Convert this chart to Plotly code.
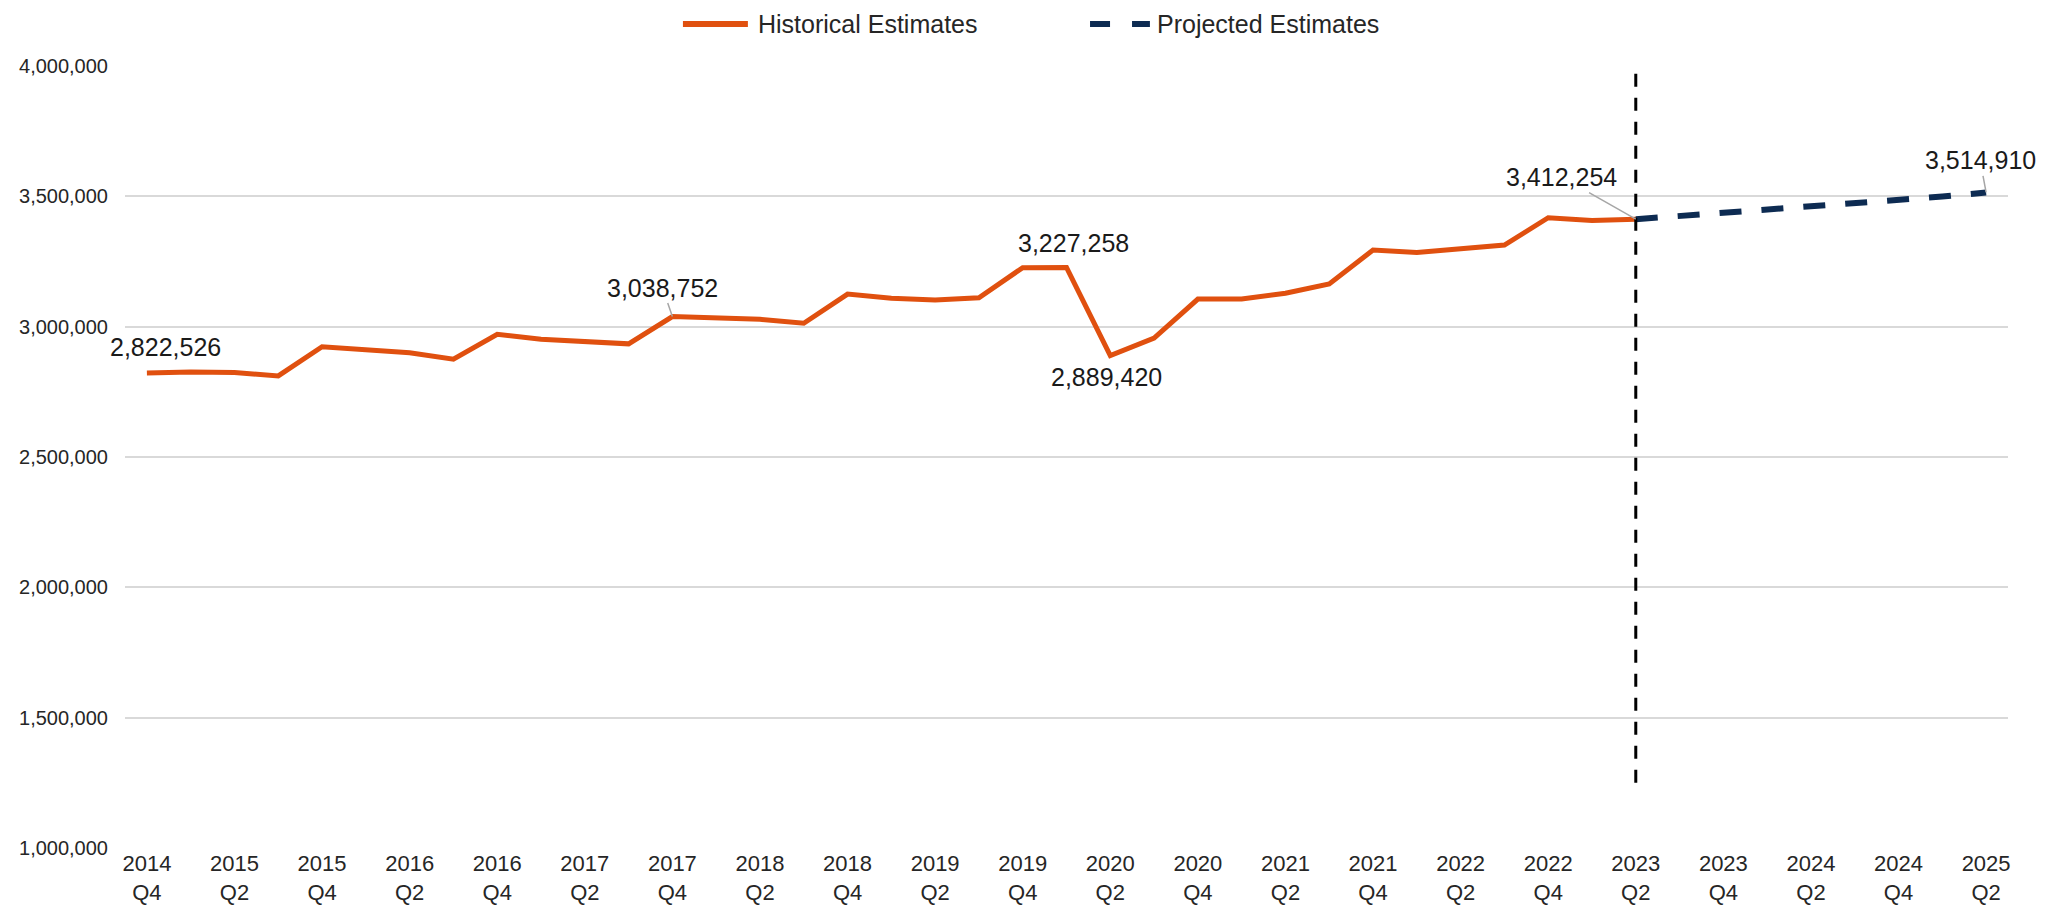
import plotly.graph_objects as go

FONT = "Arial, 'Liberation Sans', sans-serif"

quarters = [
    "2014 Q4", "2015 Q1", "2015 Q2", "2015 Q3", "2015 Q4", "2016 Q1", "2016 Q2", "2016 Q3",
    "2016 Q4", "2017 Q1", "2017 Q2", "2017 Q3", "2017 Q4", "2018 Q1", "2018 Q2", "2018 Q3",
    "2018 Q4", "2019 Q1", "2019 Q2", "2019 Q3", "2019 Q4", "2020 Q1", "2020 Q2", "2020 Q3",
    "2020 Q4", "2021 Q1", "2021 Q2", "2021 Q3", "2021 Q4", "2022 Q1", "2022 Q2", "2022 Q3",
    "2022 Q4", "2023 Q1", "2023 Q2", "2023 Q3", "2023 Q4", "2024 Q1", "2024 Q2", "2024 Q3",
    "2024 Q4", "2025 Q1", "2025 Q2",
]

# 2014 Q4 .. 2023 Q2
historical = [
    2822526, 2826000, 2824000, 2811000, 2923000, 2911000, 2900000, 2875000,
    2971000, 2952000, 2945000, 2934000, 3038752, 3031000, 3028000, 3013000,
    3125000, 3109000, 3102000, 3111000, 3226500, 3227258, 2889420, 2956000,
    3106000, 3106000, 3128000, 3164000, 3294000, 3285000, 3299000, 3313000,
    3418000, 3407000, 3412254,
]

# 2023 Q2 .. 2025 Q2
projected = [3412254, 3424000, 3436000, 3448000, 3460000, 3474000, 3486000, 3499000, 3514910]

split_quarter = "2023 Q2"
tick_quarters = quarters[::2]

HIST_COLOR = "#E0500F"
PROJ_COLOR = "#0D2B52"
TEXT_COLOR = "#262626"

split_idx = quarters.index(split_quarter)
hist_x = quarters[: split_idx + 1]
proj_x = quarters[split_idx:]

fig = go.Figure()
fig.add_trace(
    go.Scatter(
        x=hist_x, y=historical, mode="lines", name="Historical Estimates",
        line=dict(color=HIST_COLOR, width=5),
        hoverinfo="skip",
    )
)
fig.add_trace(
    go.Scatter(
        x=proj_x, y=projected, mode="lines", name="Projected Estimates",
        line=dict(color=PROJ_COLOR, width=6, dash="22px,20px"),
        hoverinfo="skip",
    )
)

# divider between history and projection
fig.add_shape(
    type="line", xref="x", yref="y",
    x0=split_idx, x1=split_idx, y0=1250000, y1=4023000,
    line=dict(color="black", width=3, dash="13px,11px"),
)

# data labels: (series, quarter, xshift, yshift, leader line)
labels = [
    ("hist", "2014 Q4", 19, 26, False),
    ("hist", "2017 Q4", -10, 29, True),
    ("hist", "2020 Q1", 7, 24, False),
    ("hist", "2020 Q2", -4, -22, False),
    ("hist", "2023 Q2", -74, 42, True),
    ("proj", "2025 Q2", -6, 32, True),
]
for series, q, dx, dy, leader in labels:
    xs, ys = (hist_x, historical) if series == "hist" else (proj_x, projected)
    val = ys[xs.index(q)]
    common = dict(x=q, y=val, xref="x", yref="y", text=f"{val:,.0f}",
                  font=dict(family=FONT, size=25, color="#1a1a1a"))
    if leader:
        fig.add_annotation(**common, showarrow=True, ax=dx, ay=-dy, axref="pixel", ayref="pixel",
                           arrowhead=0, arrowwidth=1.5, arrowcolor="#A6A6A6", standoff=0)
    else:
        fig.add_annotation(**common, showarrow=False, xshift=dx, yshift=dy)

# legend drawn by hand so the key lines are as long as in the original
legend_y = 1.0537
legend_items = [
    ("Historical Estimates", HIST_COLOR, "solid", 0.2963, 0.3308, 0.3351),
    ("Projected Estimates", PROJ_COLOR, "20px,22px", 0.5125, 0.5443, 0.5470),
]
for name, color, dash, x0, x1, xt in legend_items:
    fig.add_shape(type="line", xref="paper", yref="paper", x0=x0, x1=x1,
                  y0=legend_y, y1=legend_y, line=dict(color=color, width=6, dash=dash))
    fig.add_annotation(xref="paper", yref="paper", x=xt, y=legend_y, text=name,
                       showarrow=False, xanchor="left", yanchor="middle",
                       font=dict(family=FONT, size=25, color=TEXT_COLOR))

fig.update_xaxes(
    type="category", categoryorder="array", categoryarray=quarters,
    range=[-0.5, len(quarters) - 0.5],
    tickmode="array", tickvals=tick_quarters,
    ticktext=[q.replace(" ", "<br>") for q in tick_quarters],
    tickfont=dict(size=22, color=TEXT_COLOR),
    showgrid=False, showline=False, zeroline=False, ticks="",
    ticklabelstandoff=0,
)
fig.update_yaxes(
    range=[1000000, 4000000], dtick=500000, tickformat=",",
    tickfont=dict(size=20, color=TEXT_COLOR),
    showgrid=True, gridcolor="#D9D9D9", gridwidth=2,
    showline=False, zeroline=False, ticks="",
    ticklabelstandoff=16,
)
# page body adds 8px around the figure, so the figure is 16px smaller than the window
fig.update_layout(
    width=2033, height=899,
    margin=dict(l=117, r=33, t=58, b=59, autoexpand=False),
    plot_bgcolor="white", paper_bgcolor="white",
    font=dict(family=FONT, size=20, color=TEXT_COLOR),
    showlegend=False,
    hovermode=False,
)

fig.write_html("out.html")
